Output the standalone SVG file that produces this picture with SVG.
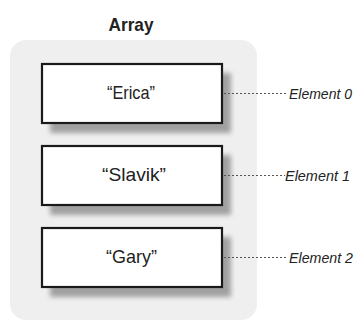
<svg xmlns="http://www.w3.org/2000/svg" width="357" height="322" viewBox="0 0 357 322">
<defs>
<filter id="blur" x="-10%" y="-20%" width="120%" height="140%"><feGaussianBlur stdDeviation="2.5"/></filter>
</defs>
<style>
.bg{fill:#efefef}
.shadow{fill:#a0a0a0;filter:url(#blur)}
.box{fill:#fff;stroke:#1a1a1a;stroke-width:2.2}
.val{font-family:"Liberation Sans",sans-serif;font-size:19px;fill:#222;text-anchor:middle}
.title{font-family:"Liberation Sans",sans-serif;font-size:19px;font-weight:bold;fill:#222;text-anchor:middle}
.lbl{font-family:"Liberation Sans",sans-serif;font-size:15px;font-style:italic;fill:#222}
.conn{stroke:#555;stroke-width:1;stroke-dasharray:2 2;fill:none}
</style>
<rect class="bg" x="10" y="40" width="247" height="280" rx="16"/>
<text class="title" x="131" y="31" textLength="45" lengthAdjust="spacingAndGlyphs">Array</text>
<g id="node-erica">
<rect class="shadow" x="50" y="73" width="181" height="60"/>
<rect class="box" x="42" y="64" width="180" height="59"/>
<text class="val" x="131" y="99" textLength="48" lengthAdjust="spacingAndGlyphs">“Erica”</text>
</g>
<g id="node-slavik">
<rect class="shadow" x="50" y="155" width="181" height="60"/>
<rect class="box" x="42" y="146" width="180" height="59"/>
<text class="val" x="134" y="181" textLength="64" lengthAdjust="spacingAndGlyphs">“Slavik”</text>
</g>
<g id="node-gary">
<rect class="shadow" x="50" y="237" width="181" height="60"/>
<rect class="box" x="42" y="228" width="180" height="59"/>
<text class="val" x="131.5" y="263" textLength="51" lengthAdjust="spacingAndGlyphs">“Gary”</text>
</g>
<g id="connectors">
<line class="conn" x1="224" y1="93.5" x2="287" y2="93.5"/>
<line class="conn" x1="224" y1="175.5" x2="285" y2="175.5"/>
<line class="conn" x1="224" y1="257.5" x2="287" y2="257.5"/>
</g>
<g id="label-0"><text class="lbl" x="289" y="99" textLength="63" lengthAdjust="spacingAndGlyphs">Element 0</text></g>
<g id="label-1"><text class="lbl" x="285" y="181" textLength="65" lengthAdjust="spacingAndGlyphs">Element 1</text></g>
<g id="label-2"><text class="lbl" x="289" y="263" textLength="64" lengthAdjust="spacingAndGlyphs">Element 2</text></g>
</svg>
